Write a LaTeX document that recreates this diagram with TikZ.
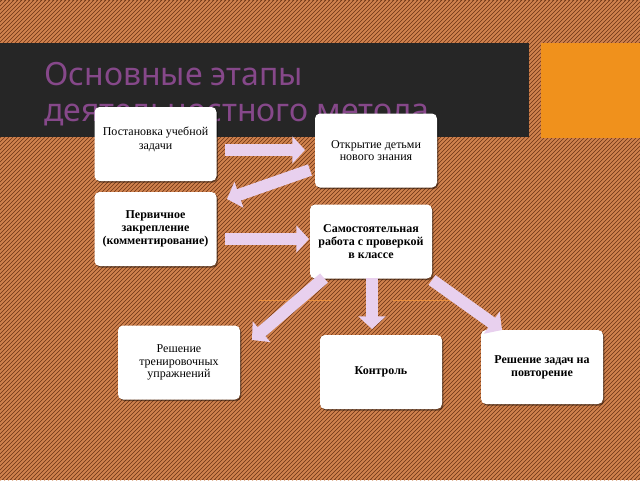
\documentclass[tikz,border=0pt]{standalone}
\usepackage{fontspec}
\usetikzlibrary{arrows.meta,shadows}
\newfontfamily\boxfont{Liberation Serif}
\newfontfamily\titlefont{Noto Sans}
\definecolor{bgdark}{RGB}{112,54,22}
\definecolor{bglight}{RGB}{208,130,78}
\definecolor{bandgray}{RGB}{38,38,38}
\definecolor{orangesq}{RGB}{240,145,28}
\definecolor{titlepurple}{RGB}{134,72,138}
\definecolor{arrowpink}{RGB}{232,208,238}
\definecolor{thinorange}{RGB}{232,142,62}
\tikzset{
  stripe/.style={draw=bglight,line width=1.5pt},
  box/.style={draw=none,fill=white,rounded corners=3.75pt,minimum width=91.5pt,minimum height=55.5pt,
    align=center,font=\boxfont\fontsize{9}{9.6}\selectfont,inner sep=2pt,
    drop shadow={shadow xshift=1pt,shadow yshift=-1.2pt,opacity=0.45,fill=black}},
  boxb/.style={box,font=\boxfont\bfseries\fontsize{9}{9.6}\selectfont},
  boxtext/.style={align=center,inner sep=0pt,font=\boxfont\fontsize{9}{10.5}\selectfont},
  blk/.style={draw=arrowpink,line width=9pt,-{Triangle[width=20pt,length=9.5pt]}},
  ttl/.style={anchor=base west,inner sep=0pt,text=titlepurple,font=\titlefont\fontsize{24}{28}\selectfont}
}
\begin{document}
\begin{tikzpicture}[x=0.75pt,y=-0.75pt]
\useasboundingbox (0,0) rectangle (640,480);
% background
\fill[bgdark] (0,0) rectangle (640,480);
\begin{scope}
\clip (0,0) rectangle (640,480);
\foreach \i in {-480,-476,...,644} \draw[stripe] (\i,480) -- (\i+480,0);
\end{scope}
% title band
\fill[bandgray] (0,43) rectangle (529,137);
\fill[orangesq] (541,43) rectangle (640,138);
\node[ttl] (t1) at (44,85) {Основные этапы};
\node[ttl] (t2) at (44,121) {деятельностного метода};
% boxes
\node[box]  (b1) at (155.5,144)  {};
\node[boxtext] (b1t) at (155.5,139) {Постановка учебной\\задачи};
\node[box]  (b2) at (376,150.5)  {Открытие детьми\\нового знания};
\node[boxb] (b3) at (155.5,229)  {Первичное\\закрепление\\(комментирование)};
\node[boxb] (b4) at (371,241.5)  {Самостоятельная\\работа с проверкой\\в классе};
\node[box]  (b5) at (179,362.5)  {Решение\\тренировочных\\упражнений};
\node[boxb] (b6) at (381,372)    {Контроль};
\node[boxb] (b7) at (542,367)    {Решение задач на\\повторение};
% thin orange lines
\coordinate (l1s) at (258,300); \coordinate (l1e) at (333,300);
\coordinate (l2s) at (393,300); \coordinate (l2e) at (470,300);
\draw[thinorange,line width=0.7pt] (l1s) -- (l1e);
\draw[thinorange,line width=0.7pt] (l2s) -- (l2e);
% arrow ends
\coordinate (a1s) at (225,150); \coordinate (a1e) at (305,150);
\coordinate (a2s) at (310,170); \coordinate (a2e) at (227,199);
\coordinate (a3s) at (225,239); \coordinate (a3e) at (309,239);
\coordinate (a4s) at (324,278); \coordinate (a4e) at (252,340);
\coordinate (a5s) at (372,278); \coordinate (a5e) at (372,329);
\coordinate (a6s) at (432,280); \coordinate (a6e) at (502,330);
\draw[blk] (a1s) -- (a1e);
\draw[blk] (a2s) -- (a2e);
\draw[blk] (a3s) -- (a3e);
\draw[blk] (a4s) -- (a4e);
\draw[blk] (a5s) -- (a5e);
\draw[blk] (a6s) -- (a6e);
\end{tikzpicture}
\end{document}
